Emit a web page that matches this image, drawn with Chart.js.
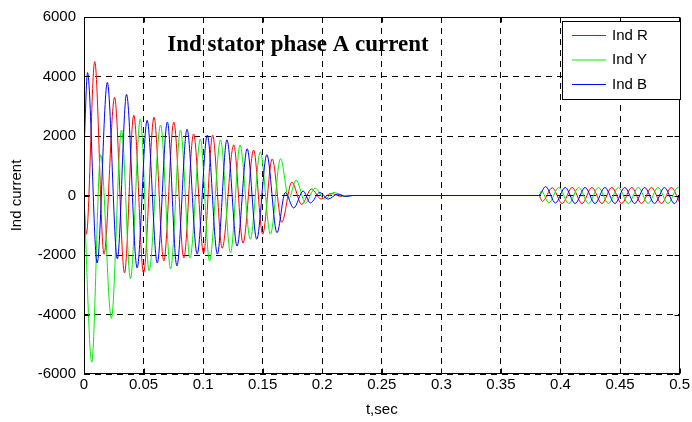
<!DOCTYPE html>
<html>
<head>
  <meta charset="utf-8">
  <title>Ind stator phase A current</title>
  <script src="https://cdn.jsdelivr.net/npm/chart.js"></script>
  <style>
    body { margin: 0; background: #fff; }
    canvas { display: block; }
  </style>
</head>
<body>
  <canvas id="currentChart" width="692" height="422"></canvas>

  <script>
    // peaks/troughs (time in s, current)
    const redT = [0, 0.002, 0.009, 0.0168, 0.0257, 0.034, 0.0418, 0.050, 0.0588, 0.067, 0.0754, 0.0838, 0.092, 0.1004,
      0.108, 0.116, 0.1257, 0.1335, 0.1424, 0.150, 0.158, 0.166, 0.1745, 0.1827, 0.191, 0.199, 0.2075, 0.2157, 0.225,
      0.3818, 0.3848, 0.3931, 0.4014, 0.4098, 0.4181, 0.4264, 0.4348, 0.4431, 0.4514, 0.4598, 0.4681, 0.4764, 0.4848, 0.4931, 0.5];
    const redI = [-300, -1300, 4500, -1970, 3300, -2600, 2700, -2600, 2630, -2200, 2470, -2100, 2070, -1930,
      2030, -1770, 1700, -1600, 1530, -1300, 1230, -900, 450, -300, 220, -120, 70, -30, 0,
      0, -200, 260, -270, 270, -270, 270, -270, 270, -270, 270, -270, 270, -270, 270, -230];

    const yelT = [0, 0.0065, 0.014, 0.023, 0.0315, 0.039, 0.0473, 0.0546, 0.0643, 0.0727, 0.081, 0.089, 0.0977, 0.1054,
      0.1146, 0.123, 0.131, 0.1396, 0.148, 0.1565, 0.165, 0.172, 0.178, 0.186, 0.194, 0.202, 0.21, 0.218, 0.225,
      0.3818, 0.384, 0.3903, 0.3986, 0.407, 0.4153, 0.4236, 0.4319, 0.4403, 0.4486, 0.457, 0.4653, 0.4736, 0.4819, 0.4903, 0.4986, 0.5];
    const yelI = [0, -5600, 1370, -4130, 2200, -2800, 2570, -2530, 2370, -2470, 2200, -2100, 1900, -2200,
      1870, -1930, 1700, -1470, 1470, -1300, 1240, -100, 520, -250, 250, -120, 100, -40, 0,
      0, 150, -250, 270, -270, 270, -270, 270, -270, 270, -270, 270, -270, 270, -270, 270, 250];

    const bluT = [0, 0.003, 0.011, 0.0196, 0.028, 0.0357, 0.0446, 0.053, 0.0615, 0.070, 0.078, 0.0865, 0.095, 0.1035,
      0.112, 0.120, 0.1285, 0.137, 0.145, 0.1535, 0.162, 0.169, 0.176, 0.184, 0.19, 0.198, 0.205, 0.213, 0.22, 0.226,
      0.3818, 0.3875, 0.3958, 0.404, 0.4123, 0.4207, 0.429, 0.4373, 0.4457, 0.454, 0.4623, 0.4707, 0.479, 0.4873, 0.4957, 0.5];
    const bluI = [1500, 4130, -2270, 3800, -2130, 3400, -2430, 2530, -2270, 2470, -2370, 2230, -1970, 2030,
      -1970, 1870, -1700, 1570, -1470, 1370, -1250, 100, -420, 150, -250, 100, -120, 50, -30, 0,
      0, 300, -250, 270, -270, 270, -270, 270, -270, 270, -270, 270, -270, 270, -270, 0];

    const seriesNames = ['Ind R', 'Ind Y', 'Ind B'];
    const seriesColors = ['#ff0000', '#00ee00', '#0000ff'];
    const xTicks = [0, 0.05, 0.1, 0.15, 0.2, 0.25, 0.3, 0.35, 0.4, 0.45, 0.5];
    const yTicks = [-6000, -4000, -2000, 0, 2000, 4000, 6000];

    const pts = (t, v) => t.map((x, i) => ({ x, y: v[i] }));
    const sans = '"Liberation Sans", Arial, Helvetica, sans-serif';

    // frame, inward ticks, title and legend box in matlab style
    const decor = {
      id: 'decor',
      afterDraw(chart) {
        const { ctx, chartArea: a, scales: { x, y } } = chart;
        const L = Math.round(a.left) + 0.5, R = Math.round(a.right) - 0.5;
        const T = Math.round(a.top) + 0.5, B = Math.round(a.bottom) - 0.5;
        ctx.save();
        ctx.strokeStyle = '#000';
        ctx.lineWidth = 1;
        ctx.setLineDash([]);
        ctx.strokeRect(L, T, R - L, B - T);
        ctx.beginPath();
        xTicks.forEach(v => {
          const px = Math.round(x.getPixelForValue(v)) + 0.5;
          ctx.moveTo(px, B); ctx.lineTo(px, B - 5);
          ctx.moveTo(px, T); ctx.lineTo(px, T + 5);
        });
        yTicks.forEach(v => {
          const py = Math.round(y.getPixelForValue(v)) + 0.5;
          ctx.moveTo(L, py); ctx.lineTo(L + 5, py);
          ctx.moveTo(R, py); ctx.lineTo(R - 5, py);
        });
        ctx.stroke();

        ctx.fillStyle = '#000';
        ctx.font = 'bold 23px "Liberation Serif", "Times New Roman", serif';
        ctx.textAlign = 'center';
        ctx.textBaseline = 'middle';
        ctx.fillText('Ind stator phase A current', 298, 45);

        // legend
        const bx = 562.5, by = 21.5, bw = 118, bh = 78;
        ctx.fillStyle = '#fff';
        ctx.fillRect(bx, by, bw, bh);
        ctx.strokeRect(bx, by, bw, bh);
        ctx.font = '15px ' + sans;
        ctx.textAlign = 'left';
        seriesNames.forEach((n, i) => {
          const ly = 35.5 + i * 24.5;
          ctx.strokeStyle = seriesColors[i];
          ctx.beginPath();
          ctx.moveTo(572, ly); ctx.lineTo(606, ly);
          ctx.stroke();
          ctx.fillStyle = '#000';
          ctx.fillText(n, 612, ly);
        });
        ctx.restore();
      }
    };

    const ctx = document.getElementById('currentChart').getContext('2d');
    const chart = new Chart(ctx, {
      type: 'line',
      data: {
        datasets: [
          { label: seriesNames[0], data: pts(redT, redI), borderColor: seriesColors[0], order: 2 },
          { label: seriesNames[1], data: pts(yelT, yelI), borderColor: seriesColors[1], order: 1 },
          { label: seriesNames[2], data: pts(bluT, bluI), borderColor: seriesColors[2], order: 0 }
        ]
      },
      options: {
        responsive: false,
        animation: false,
        devicePixelRatio: 1,
        layout: { padding: { left: 0, top: 14, right: 8, bottom: 0 } },
        elements: {
          point: { radius: 0 },
          line: { borderWidth: 1, cubicInterpolationMode: 'monotone', fill: false }
        },
        plugins: { legend: { display: false }, tooltip: { enabled: false } },
        scales: {
          x: {
            type: 'linear', min: 0, max: 0.5,
            afterFit: s => { s.height = 48; },
            afterBuildTicks: s => { s.ticks = xTicks.map(v => ({ value: v })); },
            grid: { color: '#000', drawTicks: false, lineWidth: 1 },
            border: { display: false, dash: [6, 5] },
            ticks: { padding: 2, color: '#000', font: { size: 15, family: sans }, maxRotation: 0,
              callback: v => String(parseFloat(v.toFixed(2))) },
            title: { display: true, text: 't,sec', color: '#000', font: { size: 15, family: sans },
              padding: { top: 0, bottom: 3 } }
          },
          y: {
            min: -6000, max: 6000,
            afterFit: s => { s.width = 84; },
            afterBuildTicks: s => { s.ticks = yTicks.map(v => ({ value: v })); },
            grid: { color: '#000', drawTicks: false, lineWidth: 1 },
            border: { display: false, dash: [6, 5] },
            ticks: { padding: 8, color: '#000', font: { size: 15, family: sans }, callback: v => String(v) },
            title: { display: true, text: 'Ind current', color: '#000', font: { size: 15, family: sans },
              padding: { top: 8, bottom: 0 } }
          }
        }
      },
      plugins: [decor]
    });
  </script>
</body>
</html>
